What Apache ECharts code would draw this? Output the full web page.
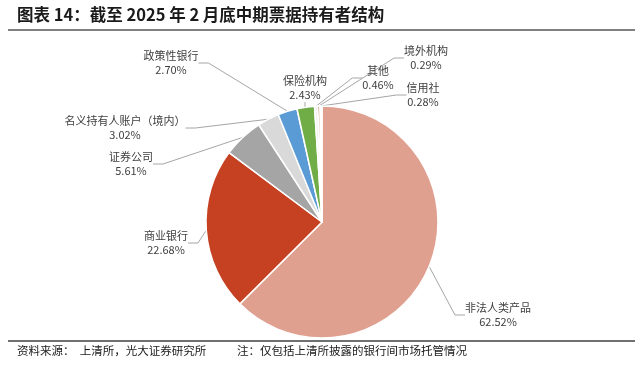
<!DOCTYPE html>
<html>
<head>
<meta charset="utf-8">
<script src="https://cdn.jsdelivr.net/npm/echarts@6/dist/echarts.min.js"></script>
<style>
html,body{margin:0;padding:0;background:#fff;}
#chart{width:640px;height:365px;}
</style>
</head>
<body>
<div id="chart"></div>
<script>
var categories = ['非法人类产品','商业银行','证券公司','名义持有人账户（境内）','政策性银行','保险机构','其他','境外机构','信用社'];
var values = [62.52, 22.68, 5.61, 3.02, 2.70, 2.43, 0.46, 0.29, 0.28];
var colors = ['#E0A090','#C54122','#A5A5A5','#D9D9D9','#5B9BD5','#70AD47','#F2F2F2','#9E480E','#FFFFFF'];
var labelPos = [[498,315],[166,243],[131,164],[125,128],[171,63],[305,88],[378,78],[426,58],[423,95]];

var chart = echarts.init(document.getElementById('chart'));
var FONT = '"Noto Sans CJK SC", "Noto Sans", sans-serif';
chart.setOption({
  animation:false,
  backgroundColor:'#fff',
  graphic:[
    {type:'text', left:17, top:6, style:{text:'图表 14：截至 2025 年 2 月底中期票据持有者结构', font:'bold 16.5px '+FONT, fill:'#1a1a1a'}},
    {type:'line', shape:{x1:8,y1:30,x2:635,y2:30}, style:{stroke:'#808080', lineWidth:2}},
    {type:'line', shape:{x1:8,y1:341,x2:635,y2:341}, style:{stroke:'#404040', lineWidth:1.5}},
    {type:'text', left:17, top:345, style:{text:'资料来源：  上清所，光大证券研究所', font:'11.5px '+FONT, fill:'#1a1a1a'}},
    {type:'text', left:237, top:345, style:{text:'注：仅包括上清所披露的银行间市场托管情况', font:'11.5px '+FONT, fill:'#1a1a1a'}}
  ],
  series:[{
    type:'pie',
    center:[322,222],
    radius:[0,116],
    startAngle:90,
    clockwise:true,
    itemStyle:{borderColor:'#fff', borderWidth:1.5},
    label:{
      formatter:function(p){return p.name+'\n'+p.value.toFixed(2)+'%';},
      fontFamily:FONT, fontSize:11, color:'#404040', lineHeight:14, align:'center'
    },
    labelLine:{show:true, length:10, length2:10, lineStyle:{color:'#A6A6A6', width:1}},
    labelLayout:function(p){
      var pos = labelPos[p.dataIndex];
      return {x:pos[0], y:pos[1], align:'center', verticalAlign:'middle'};
    },
    data:categories.map(function(c,i){return {name:c, value:values[i], itemStyle:{color:colors[i]}};})
  }]
});
</script>
</body>
</html>
